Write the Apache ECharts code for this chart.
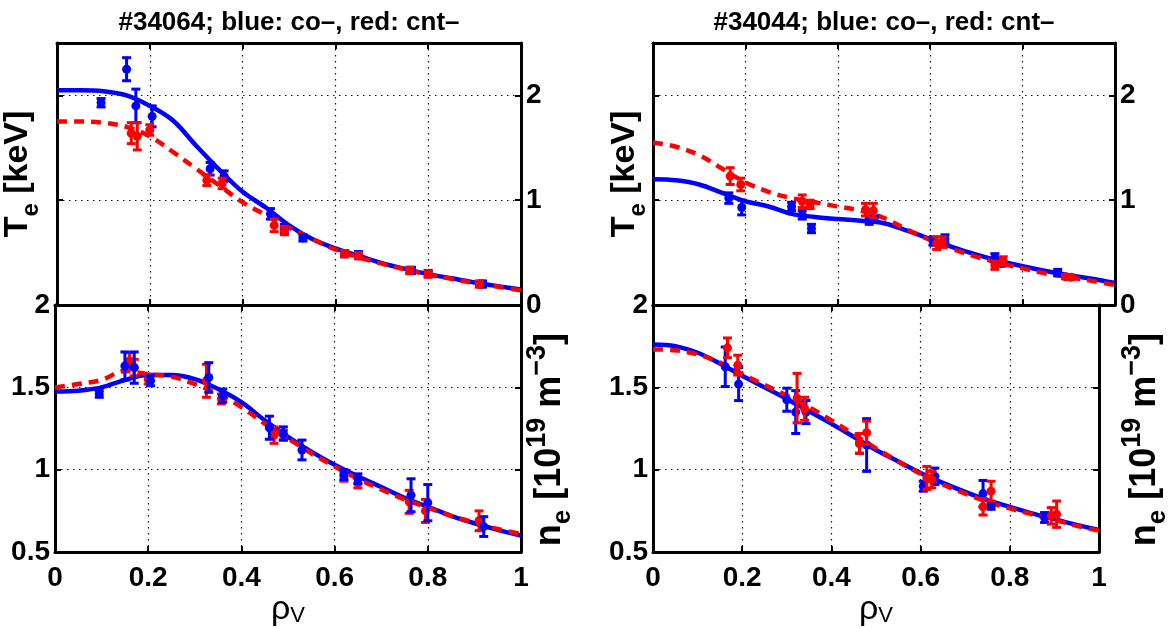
<!DOCTYPE html>
<html>
<head>
<meta charset="utf-8">
<script src="https://cdn.jsdelivr.net/npm/echarts@6/dist/echarts.min.js"></script>
<style>html,body{margin:0;padding:0;background:#fff}#c{width:1172px;height:628px}</style>
</head>
<body>
<div id="c"></div>
<script>
// ---------- data ----------
const titles = ['#34064; blue: co–, red: cnt–', '#34044; blue: co–, red: cnt–'];
const xTicks = [0, 0.2, 0.4, 0.6, 0.8, 1];
const teTicks = [0, 1, 2];
const neTicks = [0.5, 1, 1.5, 2];

const rhoFit = [0,0.05,0.1,0.15,0.2,0.25,0.3,0.35,0.4,0.45,0.5,0.55,0.6,0.65,0.7,0.75,0.8,0.85,0.9,0.95,1];
// shot 34064 fits
const teFitCoL  = [2.05,2.05,2.04,2.00,1.90,1.76,1.52,1.29,1.08,0.93,0.76,0.63,0.54,0.47,0.40,0.345,0.295,0.255,0.215,0.18,0.147];
const teFitCntL = [1.75,1.75,1.74,1.70,1.61,1.46,1.30,1.14,0.98,0.86,0.74,0.63,0.53,0.455,0.395,0.34,0.29,0.25,0.21,0.175,0.14];
const neFitCoL  = [1.475,1.48,1.50,1.545,1.575,1.575,1.55,1.49,1.41,1.30,1.20,1.11,1.03,0.96,0.895,0.83,0.775,0.72,0.675,0.635,0.60];
const neFitCntL = [1.50,1.52,1.545,1.60,1.58,1.565,1.52,1.46,1.38,1.28,1.19,1.10,1.02,0.945,0.88,0.82,0.77,0.72,0.68,0.64,0.61];
// shot 34044 fits
const teFitCoR  = [1.20,1.19,1.15,1.07,0.99,0.94,0.87,0.84,0.82,0.805,0.78,0.71,0.63,0.55,0.48,0.42,0.37,0.325,0.285,0.25,0.21];
const teFitCntR = [1.55,1.51,1.43,1.30,1.17,1.08,1.02,0.98,0.94,0.90,0.83,0.72,0.62,0.53,0.46,0.40,0.35,0.30,0.265,0.23,0.19];
const neFitCoR  = [1.76,1.75,1.71,1.645,1.57,1.50,1.43,1.355,1.28,1.20,1.12,1.05,0.98,0.92,0.865,0.815,0.775,0.735,0.70,0.665,0.634];
const neFitCntR = [1.73,1.725,1.70,1.65,1.58,1.515,1.45,1.38,1.30,1.215,1.13,1.05,0.975,0.91,0.855,0.805,0.765,0.73,0.695,0.66,0.63];

// measured points [rho, value, error]
const teCoL  = [[0.095,1.93,0.04],[0.15,2.25,0.11],[0.17,1.90,0.16],[0.205,1.80,0.10],[0.33,1.30,0.06],[0.36,1.23,0.05],[0.46,0.87,0.05],[0.49,0.73,0.04],[0.53,0.64,0.03],[0.62,0.49,0.03],[0.65,0.48,0.03],[0.764,0.33,0.03],[0.80,0.30,0.03],[0.917,0.20,0.03]];
const teCntL = [[0.16,1.64,0.10],[0.173,1.61,0.13],[0.20,1.67,0.05],[0.323,1.19,0.05],[0.356,1.16,0.05],[0.468,0.76,0.06],[0.49,0.71,0.04],[0.62,0.49,0.03],[0.65,0.47,0.03],[0.76,0.33,0.03],[0.80,0.295,0.03],[0.91,0.20,0.03]];
const neCoL  = [[0.095,1.46,0.02],[0.15,1.63,0.085],[0.17,1.62,0.095],[0.205,1.54,0.03],[0.33,1.56,0.09],[0.36,1.45,0.04],[0.46,1.255,0.07],[0.49,1.22,0.04],[0.53,1.12,0.06],[0.62,0.97,0.03],[0.65,0.945,0.03],[0.764,0.845,0.10],[0.80,0.80,0.11],[0.92,0.655,0.06]];
const neCntL = [[0.16,1.66,0.05],[0.17,1.62,0.05],[0.20,1.55,0.03],[0.325,1.54,0.10],[0.357,1.43,0.03],[0.47,1.21,0.05],[0.49,1.21,0.03],[0.62,0.96,0.03],[0.65,0.92,0.03],[0.76,0.805,0.07],[0.795,0.75,0.07],[0.91,0.69,0.06]];
const teCoR  = [[0.164,1.02,0.05],[0.192,0.93,0.07],[0.30,0.94,0.04],[0.323,0.86,0.04],[0.343,0.73,0.04],[0.468,0.80,0.03],[0.479,0.82,0.03],[0.606,0.61,0.04],[0.632,0.63,0.04],[0.74,0.45,0.04],[0.755,0.40,0.03],[0.876,0.31,0.03]];
const teCntR = [[0.167,1.23,0.08],[0.19,1.15,0.06],[0.323,0.99,0.06],[0.34,0.96,0.04],[0.46,0.91,0.06],[0.477,0.90,0.07],[0.614,0.59,0.06],[0.626,0.60,0.05],[0.74,0.38,0.04],[0.758,0.42,0.04],[0.893,0.27,0.02],[0.905,0.265,0.02]];
const neCoR  = [[0.162,1.625,0.12],[0.192,1.52,0.10],[0.30,1.425,0.07],[0.32,1.35,0.13],[0.343,1.35,0.07],[0.463,1.16,0.06],[0.479,1.15,0.16],[0.606,0.90,0.03],[0.632,0.96,0.05],[0.74,0.855,0.08],[0.758,0.78,0.02],[0.878,0.71,0.03]];
const neCntR = [[0.167,1.74,0.06],[0.19,1.635,0.06],[0.323,1.435,0.15],[0.34,1.37,0.07],[0.463,1.16,0.06],[0.479,1.225,0.07],[0.614,0.95,0.07],[0.625,0.94,0.05],[0.74,0.775,0.05],[0.758,0.87,0.06],[0.893,0.72,0.05],[0.905,0.73,0.08]];

// ---------- styling ----------
const FONT = "'Liberation Sans Narrow','Arial Narrow','Liberation Sans',Arial,sans-serif";
const FONTR = "'Liberation Sans',Arial,sans-serif";
const BLUE = '#0000ff', RED = '#ff0000';

const grids = [
  {left: 55,  top: 43,  width: 466, height: 262},
  {left: 55,  top: 305, width: 466, height: 263},
  {left: 653, top: 43,  width: 462, height: 262},
  {left: 653, top: 305, width: 462, height: 263}
];

const lineAx = {show: true, onZero: false, lineStyle: {color: '#000', width: 3}};
const tickAx = {show: true, inside: true, length: 6, lineStyle: {color: '#000', width: 2}};
const splitAx = {show: true, lineStyle: {color: '#111', width: 1.2, type: [1.5, 4.5]}};
const labelStyle = {fontFamily: FONT, fontWeight: 'bold', fontSize: 28, color: '#000'};

function tickFmt(list) {
  return function (v) {
    for (const t of list) if (Math.abs(t - v) < 1e-9) return String(t);
    return '';
  };
}

const teName = '{b|T}{s|e}{b| [keV]}';
const neName = '{b|n}{s|e}{b| [10}{p|19}{b| m}{p|−3}{z|]}';
const nameRich = {
  b: {fontFamily: FONTR, fontWeight: 'bold', fontSize: 34, color: '#000', lineHeight: 50, verticalAlign: 'middle'},
  s: {fontFamily: FONTR, fontWeight: 'bold', fontSize: 24, color: '#000', verticalAlign: 'bottom'},
  p: {fontFamily: FONTR, fontWeight: 'bold', fontSize: 24, color: '#000', verticalAlign: 'top'}
};
const neRich = {
  b: {fontFamily: FONTR, fontWeight: 'bold', fontSize: 36, color: '#000', lineHeight: 52, verticalAlign: 'middle'},
  z: {fontFamily: FONTR, fontWeight: 'bold', fontSize: 36, color: '#000', lineHeight: 52, verticalAlign: 'middle', padding: [0, 22, 0, 0]},
  s: {fontFamily: FONTR, fontWeight: 'bold', fontSize: 26, color: '#000', verticalAlign: 'bottom'},
  p: {fontFamily: FONTR, fontWeight: 'bold', fontSize: 27, color: '#000', verticalAlign: 'top'}
};
const rhoRich = {
  r: {fontFamily: FONTR, fontSize: 34, color: '#000', lineHeight: 34, verticalAlign: 'middle'},
  v: {fontFamily: FONTR, fontSize: 22, color: '#000', verticalAlign: 'bottom'}
};
const titleRich = {
  t: {fontFamily: FONTR, fontWeight: 'bold', fontSize: 26, color: '#000', lineHeight: 28}
};

const xAxes = [], yAxes = [];
const cfg = [
  {kind: 'te', teGap: 14, title: titles[0]},
  {kind: 'ne', neGap: 3},
  {kind: 'te', teGap: 3, title: titles[1]},
  {kind: 'ne', neGap: 20}
];
cfg.forEach((c, gi) => {
  const isNe = c.kind === 'ne';
  xAxes.push({
    gridIndex: gi, type: 'value', min: 0, max: 1, interval: 0.2, position: 'bottom',
    axisLine: lineAx, axisTick: tickAx, splitLine: splitAx,
    axisLabel: Object.assign({show: isNe, margin: 12, formatter: tickFmt(xTicks)}, labelStyle),
    name: isNe ? '{r|ρ}{v|V}' : '', nameLocation: 'middle', nameGap: -10,
    nameTextStyle: {rich: rhoRich}
  });
  xAxes.push({
    gridIndex: gi, type: 'value', min: 0, max: 1, interval: 0.2, position: 'top',
    axisLine: lineAx, axisTick: tickAx, splitLine: {show: false}, axisLabel: {show: false},
    name: c.title ? '{t|' + c.title + '}' : '', nameLocation: 'middle', nameGap: 6,
    nameTextStyle: {rich: titleRich}
  });
  const yr = isNe ? {min: 0.5, max: 2, interval: 0.5} : {min: 0, max: 2.5, interval: 1};
  yAxes.push(Object.assign({
    gridIndex: gi, type: 'value', position: 'left',
    axisLine: lineAx, axisTick: tickAx, splitLine: splitAx,
    axisLabel: Object.assign({show: isNe, margin: 5, formatter: tickFmt(neTicks)}, labelStyle),
    name: isNe ? '' : teName, nameLocation: 'middle', nameRotate: 90, nameGap: c.teGap || 10,
    nameTextStyle: {rich: nameRich}
  }, yr));
  yAxes.push(Object.assign({
    gridIndex: gi, type: 'value', position: 'right',
    axisLine: lineAx, axisTick: tickAx, splitLine: {show: false},
    axisLabel: Object.assign({show: !isNe, margin: 5, formatter: tickFmt(teTicks)}, labelStyle),
    name: isNe ? neName : '', nameLocation: 'middle', nameRotate: 90, nameGap: c.neGap || 10,
    nameTextStyle: {rich: neRich}
  }, yr));
});

function fitSeries(gi, vals, color, dashed) {
  return {
    type: 'line', xAxisIndex: gi * 2, yAxisIndex: gi * 2, smooth: 0.35,
    showSymbol: false, symbol: 'none', z: dashed ? 3 : 2, silent: true,
    lineStyle: {color: color, width: 4.5, type: dashed ? [10, 7] : 'solid', cap: 'butt'},
    data: rhoFit.map((r, i) => [r, vals[i]])
  };
}
function errSeries(gi, pts, color, z) {
  return {
    type: 'custom', xAxisIndex: gi * 2, yAxisIndex: gi * 2, z: z, silent: true,
    encode: {x: 0, y: 1},
    data: pts,
    renderItem: function (params, api) {
      const x = api.value(0), y = api.value(1), e = api.value(2);
      const t = api.coord([x, y + e]), b = api.coord([x, y - e]), c = api.coord([x, y]);
      const cap = 4.5, st = {stroke: color, lineWidth: 3};
      return {type: 'group', children: [
        {type: 'line', shape: {x1: t[0], y1: t[1], x2: b[0], y2: b[1]}, style: st},
        {type: 'line', shape: {x1: t[0] - cap, y1: t[1], x2: t[0] + cap, y2: t[1]}, style: st},
        {type: 'line', shape: {x1: b[0] - cap, y1: b[1], x2: b[0] + cap, y2: b[1]}, style: st},
        {type: 'circle', shape: {cx: c[0], cy: c[1], r: 4.5}, style: {fill: color}}
      ]};
    }
  };
}

const series = [
  fitSeries(0, teFitCoL, BLUE, false), fitSeries(0, teFitCntL, RED, true),
  errSeries(0, teCoL, BLUE, 4), errSeries(0, teCntL, RED, 5),
  fitSeries(1, neFitCoL, BLUE, false), fitSeries(1, neFitCntL, RED, true),
  errSeries(1, neCntL, RED, 4), errSeries(1, neCoL, BLUE, 5),
  fitSeries(2, teFitCoR, BLUE, false), fitSeries(2, teFitCntR, RED, true),
  errSeries(2, teCoR, BLUE, 4), errSeries(2, teCntR, RED, 5),
  fitSeries(3, neFitCoR, BLUE, false), fitSeries(3, neFitCntR, RED, true),
  errSeries(3, neCoR, BLUE, 4), errSeries(3, neCntR, RED, 5)
];

const chart = echarts.init(document.getElementById('c'), null, {renderer: 'canvas'});
chart.setOption({
  backgroundColor: '#fff',
  animation: false,
  grid: grids.map(g => Object.assign({show: false, containLabel: false}, g)),
  xAxis: xAxes,
  yAxis: yAxes,
  series: series
});
</script>
</body>
</html>
